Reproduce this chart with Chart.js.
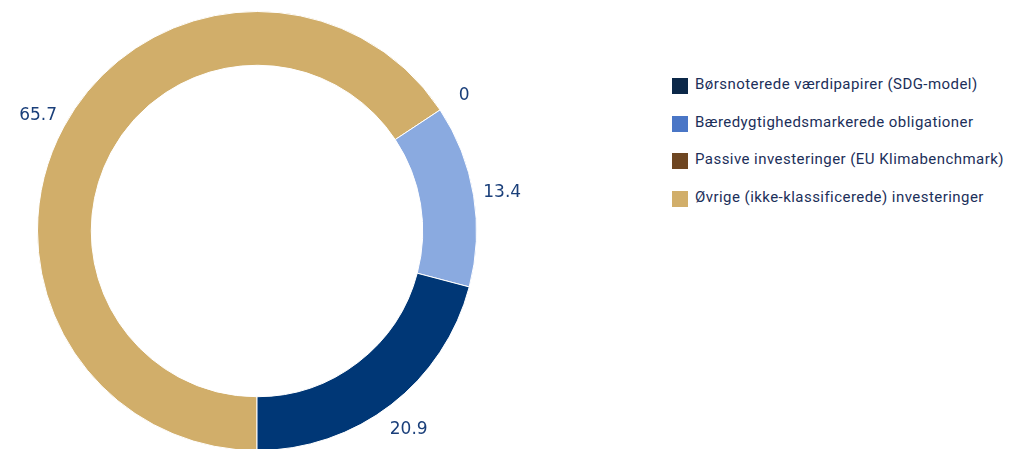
<!DOCTYPE html>
<html>
<head>
<meta charset="utf-8">
<script src="https://cdn.jsdelivr.net/npm/chart.js@4/dist/chart.umd.min.js"></script>
<style>
  html, body { margin: 0; padding: 0; background: #fff; overflow: hidden; }
  body { width: 1009px; height: 449px; position: relative; }
  #wrap { position: absolute; left: 0; top: 0; width: 600px; height: 462px; }
  #legend { position: absolute; left: 672px; top: 75px; font-family: Roboto, sans-serif; font-size: 15px; letter-spacing: 0.45px; color: #1c2f5a; }
  #legend div { height: 37.7px; display: flex; align-items: flex-start; white-space: nowrap; }
  #legend span.box { width: 16px; height: 16px; margin-right: 7px; margin-top: 3px; display: inline-block; flex: none; }
</style>
</head>
<body>
<div id="wrap"><canvas id="chart"></canvas></div>
<div id="legend"></div>
<script>
  // data, in legend order
  const categories = [
    'Børsnoterede værdipapirer (SDG-model)',
    'Bæredygtighedsmarkerede obligationer',
    'Passive investeringer (EU Klimabenchmark)',
    'Øvrige (ikke-klassificerede) investeringer'
  ];
  const values = [20.9, 13.4, 0, 65.7];
  const sliceColors = ['#003776', '#8aaae0', '#6e4622', '#d1ae6a'];
  const legendColors = ['#0b2748', '#4a76c6', '#6e4622', '#d1ae6a'];

  // legend
  const legendEl = document.getElementById('legend');
  legendEl.innerHTML = categories.map((c, i) =>
    `<div><span class="box" style="background:${legendColors[i]}"></span>${c}</div>`
  ).join('');

  // slices run counter-clockwise from the bottom, so feed them reversed
  const order = values.map((v, i) => i).reverse();

  // value labels outside the ring
  const outsideLabels = {
    id: 'outsideLabels',
    afterDatasetsDraw(chart) {
      const ctx = chart.ctx;
      const meta = chart.getDatasetMeta(0);
      ctx.save();
      ctx.font = '17px "DejaVu Sans"';
      ctx.fillStyle = '#1a3f7a';
      ctx.textAlign = 'center';
      ctx.textBaseline = 'middle';
      meta.data.forEach((arc, i) => {
        const a = (arc.startAngle + arc.endAngle) / 2;
        const r = arc.outerRadius + 29;
        const x = arc.x + Math.cos(a) * r;
        const y = arc.y + Math.sin(a) * r + 2;
        ctx.fillText(String(chart.data.datasets[0].data[i]), x, y);
      });
      ctx.restore();
    }
  };

  new Chart(document.getElementById('chart'), {
    type: 'doughnut',
    data: {
      labels: order.map(i => categories[i]),
      datasets: [{
        data: order.map(i => values[i]),
        backgroundColor: order.map(i => sliceColors[i]),
        borderColor: '#ffffff',
        borderWidth: 1
      }]
    },
    options: {
      responsive: true,
      maintainAspectRatio: false,
      animation: false,
      rotation: 180,
      cutout: '75.5%',
      layout: { padding: { left: 37, top: 11, right: 123, bottom: 11 } },
      plugins: {
        legend: { display: false },
        tooltip: { enabled: false }
      }
    },
    plugins: [outsideLabels]
  });
</script>
</body>
</html>
